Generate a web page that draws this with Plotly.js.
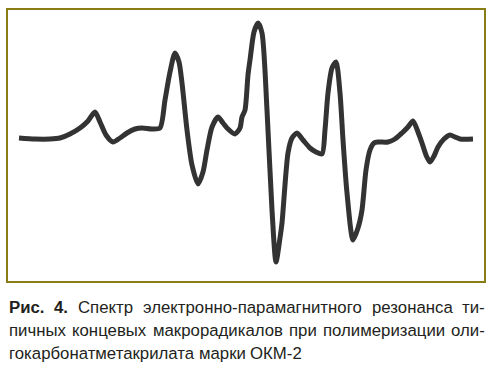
<!DOCTYPE html>
<html>
<head>
<meta charset="utf-8">
<script src="https://cdn.plot.ly/plotly-3.0.1.min.js"></script>
<style>
  html, body { margin: 0; padding: 0; background: #fff; }
  #chart { width: 492px; height: 372px; }
</style>
</head>
<body>
<div id="chart"></div>
<script>
// EPR spectrum: field position (arbitrary units) and first-derivative signal
const field = [11, 27, 42, 52, 62, 72, 80, 87, 92, 98, 105, 112, 119, 127, 134, 144, 152,
  157, 162, 167, 171, 174, 179, 184, 190, 195, 199, 204, 210, 215, 219, 227, 232, 234, 237,
  240, 242, 246, 250, 254, 259, 264, 268, 272, 274, 280, 284, 289, 295, 302, 308, 314, 317,
  320, 324, 328, 332, 335, 339, 345, 350, 354, 358, 362, 366, 370, 380, 387, 394, 400, 405,
  410, 414, 418, 422, 426, 430, 436, 442, 447, 452, 465];
const signal = [1, 0, 0, 1, 5, 11, 18, 27, 17, 4, -3, 1, 6, 10, 11, 10, 11,
  39, 67, 86, 77, 56, 9, -26, -45, -33, -11, 12, 22, 16, 11, 5, 11, 22, 29,
  64, 79, 107, 116, 106, 29, -71, -123, -99, -84, -14, 1, 6, -1, -9, -13, -15, 9,
  46, 71, 77, 46, -1, -54, -101, -89, -71, -31, -11, -4, -3, -3, 0, 6, 12, 18,
  7, -4, -16, -23, -17, -8, 0, 4, 2, 0, 0];

// Caption lines; the first two are set justified, the last one ragged
const captionLines = [
  ["Рис. 4.", "Спектр", "электронно-парамагнитного", "резонанса", "ти-"],
  ["пичных", "концевых", "макрорадикалов", "при", "полимеризации", "оли-"],
  ["гокарбонатметакрилата", "марки", "ОКМ-2"]
];
const boldPrefix = ["Рис.", "4."];

const W = 492, H = 372;
const M = { l: 8, r: 8, t: 10, b: 91 };
const plotW = W - M.l - M.r, plotH = H - M.t - M.b;
const FONT = "Liberation Sans, Arial, sans-serif";
const FS = 16.8;

const ctx = document.createElement("canvas").getContext("2d");
function measure(t, bold) {
  ctx.font = (bold ? "bold " : "") + FS + "px 'Liberation Sans', Arial, sans-serif";
  return ctx.measureText(t).width;
}

const annotations = [];
const lineCenters = [307, 330, 353];
captionLines.forEach((line, li) => {
  // split the first line's leading "Рис. 4." into bold words
  const words = [];
  line.forEach(w => {
    if (w === "Рис. 4.") boldPrefix.forEach(b => words.push({ t: b, bold: true }));
    else words.push({ t: w, bold: false });
  });
  const widths = words.map(w => measure(w.t, w.bold));
  const total = widths.reduce((a, b) => a + b, 0);
  const justify = li < captionLines.length - 1;
  const gap = justify ? (plotW - total) / (words.length - 1) : measure(" ", false);
  let x = 0;
  words.forEach((w, i) => {
    annotations.push({
      xref: "paper", yref: "paper",
      x: x / plotW, y: (H - M.b - lineCenters[li]) / plotH,
      xanchor: "left", yanchor: "middle",
      text: w.bold ? "<b>" + w.t + "</b>" : w.t,
      showarrow: false, borderpad: 0,
      font: { family: FONT, size: FS, color: "#231f20" }
    });
    x += widths[i] + gap;
  });
});

const trace = {
  x: field, y: signal, type: "scatter", mode: "lines",
  line: { color: "#333333", width: 5, shape: "spline", smoothing: 0.7 },
  hoverinfo: "skip"
};

const axisCommon = {
  showgrid: false, zeroline: false, showticklabels: false, ticks: "",
  showline: true, mirror: true, linecolor: "#8b7d16", linewidth: 2, fixedrange: true
};

const layout = {
  width: W, height: H,
  margin: M,
  paper_bgcolor: "#ffffff", plot_bgcolor: "#ffffff",
  showlegend: false,
  xaxis: Object.assign({ range: [0, plotW] }, axisCommon),
  yaxis: Object.assign({ range: [139 - 281, 139 - 10] }, axisCommon),
  annotations: annotations
};

Plotly.newPlot("chart", [trace], layout, { displayModeBar: false, staticPlot: true });
</script>
</body>
</html>
